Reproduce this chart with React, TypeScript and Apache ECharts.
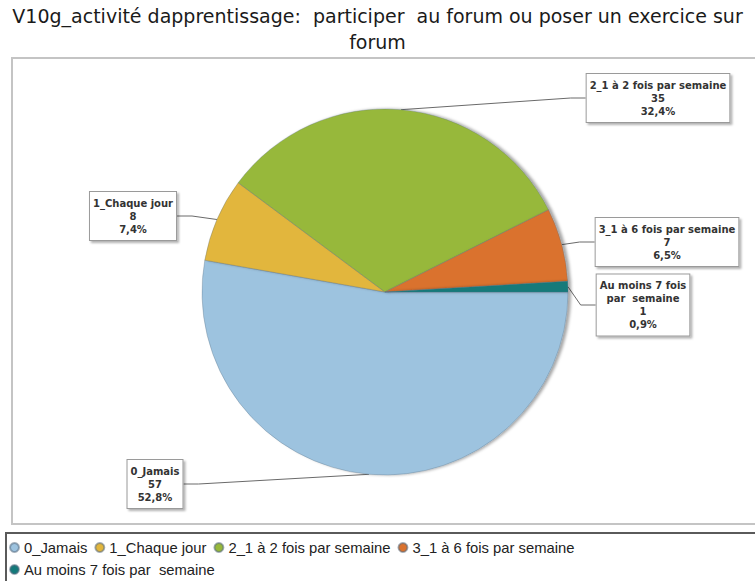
import React, { useEffect, useRef } from "react";
import * as echarts from "echarts";

const titleText =
  "V10g_activité dapprentissage:  participer  au forum ou poser un exercice sur\nforum";
const categories = [
  "0_Jamais",
  "1_Chaque jour",
  "2_1 à 2 fois par semaine",
  "3_1 à 6 fois par semaine",
  "Au moins 7 fois par  semaine",
];
const labelNames = [
  "0_Jamais",
  "1_Chaque jour",
  "2_1 à 2 fois par semaine",
  "3_1 à 6 fois par semaine",
  "Au moins 7 fois\npar  semaine",
];
const values = [57, 8, 35, 7, 1];
const colors = ["#9dc3df", "#e2b63c", "#97b83a", "#da722e", "#137a7a"];

// label box centres (layout only)
const labelPos: [number, number][] = [
  [155, 484],
  [133, 216],
  [658, 98],
  [667, 242],
  [643, 305],
];

export default function App() {
  const ref = useRef<HTMLDivElement>(null);
  useEffect(() => {
    if (!ref.current) return;
    const chart = echarts.init(ref.current, undefined, { renderer: "svg" });
    chart.setOption({
      animation: false,
      backgroundColor: "#ffffff",
      title: {
        text: titleText,
        left: "center",
        top: 3,
        padding: 0,
        textStyle: {
          fontFamily: "DejaVu Sans, Verdana, sans-serif",
          fontSize: 19,
          fontWeight: "normal",
          lineHeight: 26,
          color: "#1a1a1a",
        },
      },
      graphic: [
        {
          type: "rect",
          z: -1,
          shape: { x: 12, y: 58, width: 760, height: 466 },
          style: { fill: "none", stroke: "#c4c4c4", lineWidth: 2 },
        },
        {
          type: "rect",
          z: -1,
          shape: { x: 6, y: 533, width: 760, height: 60 },
          style: { fill: "none", stroke: "#5a5a5a", lineWidth: 2 },
        },
      ],
      legend: {
        data: categories,
        left: 9,
        top: 540,
        width: 650,
        padding: 0,
        itemGap: 7,
        itemWidth: 9,
        itemHeight: 9,
        icon: "circle",
        textStyle: {
          fontFamily: "Liberation Sans, Arial, sans-serif",
          fontSize: 14.8,
          color: "#222",
        },
      },
      series: [
        {
          type: "pie",
          center: [385, 292],
          radius: 183,
          startAngle: 0,
          clockwise: true,
          percentPrecision: 1,
          data: categories.map((name, i) => ({
            name,
            value: values[i],
            itemStyle: { color: colors[i] },
          })),
          itemStyle: {
            borderColor: "rgba(90,110,130,0.55)",
            borderWidth: 0.6,
            shadowColor: "rgba(0,0,0,0.35)",
            shadowBlur: 3,
            shadowOffsetX: 3,
            shadowOffsetY: 0,
          },
          emphasis: { disabled: true },
          label: {
            show: true,
            position: "outside",
            formatter: (p: any) =>
              labelNames[p.dataIndex] +
              "\n" +
              p.value +
              "\n" +
              Number(p.percent).toFixed(1).replace(".", ",") +
              "%",
            fontFamily: "DejaVu Sans, Verdana, sans-serif",
            fontWeight: "bold",
            fontSize: 10,
            lineHeight: 13,
            color: "#333",
            align: "center",
            backgroundColor: "#ffffff",
            borderColor: "#9a9a9a",
            borderWidth: 1,
            padding: [5, 3, 4, 3],
            shadowColor: "rgba(0,0,0,0.3)",
            shadowBlur: 2,
            shadowOffsetX: 2,
            shadowOffsetY: 2,
          },
          labelLine: {
            show: true,
            length: 15,
            length2: 15,
            lineStyle: { color: "#6a6a6a", width: 1 },
          },
          labelLayout: (params: any) => {
            const pos = labelPos[params.dataIndex];
            return {
              x: pos[0],
              y: pos[1],
              align: "center",
              verticalAlign: "middle",
            };
          },
        },
      ],
    });
    return () => chart.dispose();
  }, []);
  return (
    <div
      ref={ref}
      style={{ position: "fixed", left: 0, top: 0, width: 755, height: 581 }}
    />
  );
}
